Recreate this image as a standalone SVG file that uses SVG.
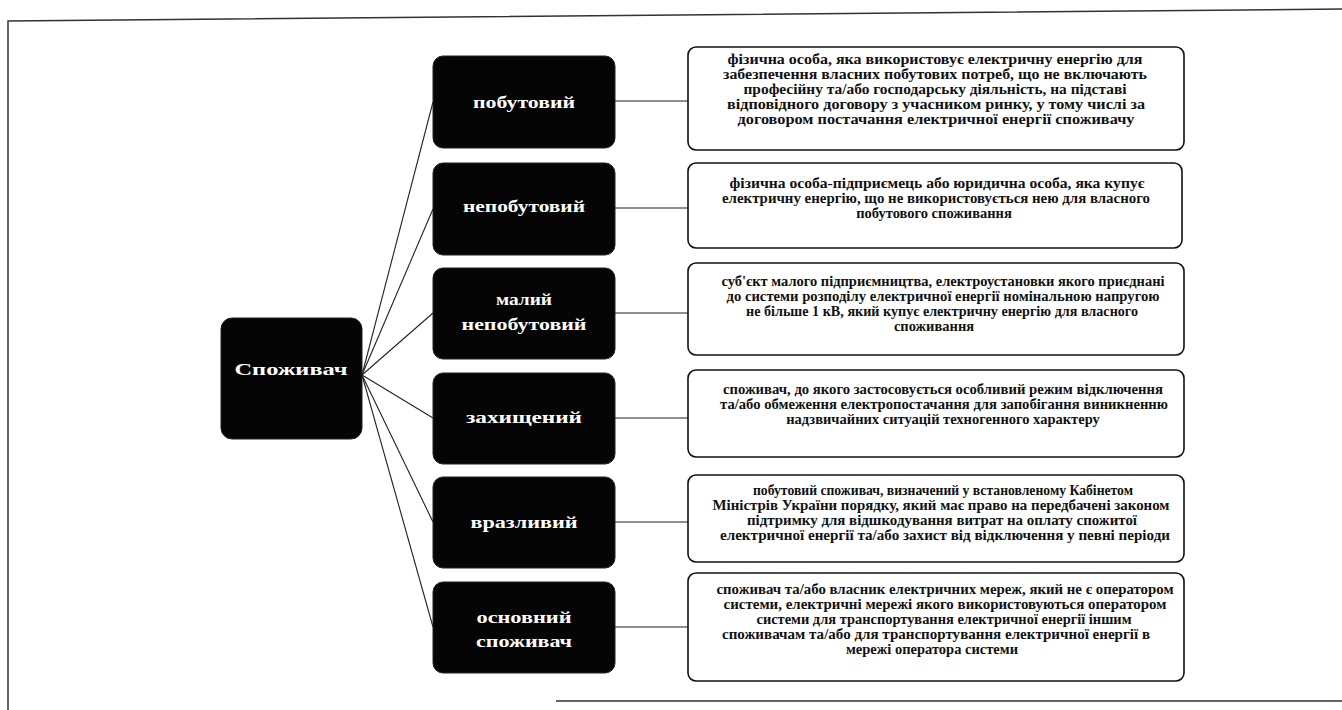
<svg xmlns="http://www.w3.org/2000/svg" width="1342" height="710" viewBox="0 0 1342 710">
<style>
.frame{fill:none;stroke:#333;stroke-width:1.5}
.cat rect{fill:#050505;stroke:#222;stroke-width:1}
.cat text{fill:#fff;font-family:"Liberation Serif",serif;font-weight:bold;font-size:16px;text-anchor:middle}
.desc rect{fill:#fff;stroke:#111;stroke-width:1.6}
.desc text{fill:#111;font-family:"Liberation Serif",serif;font-weight:bold;font-size:14.5px;text-anchor:middle}
.conn line{stroke:#222;stroke-width:1.1}
</style>
<rect width="1342" height="710" fill="#fff"/>
<path class="frame" d="M8,710 L8,21 L1342,9"/>
<line class="frame" x1="556" y1="701" x2="1342" y2="701"/>
<g class="conn">
<line x1="362" y1="375" x2="433" y2="102"/>
<line x1="362" y1="375" x2="433" y2="209"/>
<line x1="362" y1="375" x2="433" y2="313"/>
<line x1="362" y1="375" x2="433" y2="418"/>
<line x1="362" y1="375" x2="433" y2="522"/>
<line x1="362" y1="375" x2="433" y2="627"/>
<line x1="615" y1="101" x2="688" y2="101"/>
<line x1="615" y1="208" x2="688" y2="208"/>
<line x1="615" y1="313" x2="688" y2="313"/>
<line x1="615" y1="418" x2="688" y2="418"/>
<line x1="615" y1="522" x2="688" y2="522"/>
<line x1="615" y1="627" x2="688" y2="627"/>
</g>
<g id="n-center" class="cat">
<rect x="221" y="318" width="141" height="121" rx="11"/>
<text x="291" y="375" font-size="20" textLength="113" lengthAdjust="spacingAndGlyphs">Споживач</text>
</g>
<g id="n-pobut" class="cat">
<rect x="433" y="56" width="182" height="92" rx="10"/>
<text x="524" y="108" textLength="102" lengthAdjust="spacingAndGlyphs">побутовий</text>
</g>
<g id="n-nepobut" class="cat">
<rect x="433" y="163" width="182" height="92" rx="10"/>
<text x="524" y="212" textLength="122" lengthAdjust="spacingAndGlyphs">непобутовий</text>
</g>
<g id="n-malyi" class="cat">
<rect x="433" y="268" width="182" height="91" rx="10"/>
<text x="524" y="305" textLength="56" lengthAdjust="spacingAndGlyphs">малий</text>
<text x="524" y="330" textLength="125" lengthAdjust="spacingAndGlyphs">непобутовий</text>
</g>
<g id="n-zakhysh" class="cat">
<rect x="433" y="373" width="182" height="91" rx="10"/>
<text x="524" y="423" textLength="116" lengthAdjust="spacingAndGlyphs">захищений</text>
</g>
<g id="n-vrazl" class="cat">
<rect x="433" y="477" width="182" height="91" rx="10"/>
<text x="524" y="528" textLength="107" lengthAdjust="spacingAndGlyphs">вразливий</text>
</g>
<g id="n-osnov" class="cat">
<rect x="433" y="582" width="182" height="91" rx="10"/>
<text x="524" y="623" textLength="95" lengthAdjust="spacingAndGlyphs">основний</text>
<text x="524" y="647" textLength="96" lengthAdjust="spacingAndGlyphs">споживач</text>
</g>
<g id="d-pobut" class="desc">
<rect x="688" y="47" width="496" height="103" rx="8"/>
<text x="935" y="64" textLength="415" lengthAdjust="spacingAndGlyphs">фізична особа, яка використовує електричну енергію для</text>
<text x="935" y="79" textLength="424" lengthAdjust="spacingAndGlyphs">забезпечення власних побутових потреб, що не включають</text>
<text x="935" y="94" textLength="383" lengthAdjust="spacingAndGlyphs">професійну та/або господарську діяльність, на підставі</text>
<text x="936" y="109" textLength="418" lengthAdjust="spacingAndGlyphs">відповідного договору з учасником ринку, у тому числі за</text>
<text x="936" y="124" textLength="397" lengthAdjust="spacingAndGlyphs">договором постачання електричної енергії споживачу</text>
</g>
<g id="d-nepobut" class="desc">
<rect x="688" y="163" width="494" height="85" rx="8"/>
<text x="937" y="188" textLength="415" lengthAdjust="spacingAndGlyphs">фізична особа-підприємець  або юридична особа, яка купує</text>
<text x="936" y="203" textLength="428" lengthAdjust="spacingAndGlyphs">електричну енергію, що не використовується нею для власного</text>
<text x="934" y="218">побутового споживання</text>
</g>
<g id="d-malyi" class="desc">
<rect x="688" y="263" width="496" height="92" rx="8"/>
<text x="943" y="286" textLength="443" lengthAdjust="spacingAndGlyphs">суб'єкт малого підприємництва,  електроустановки якого приєднані</text>
<text x="943" y="301" textLength="433" lengthAdjust="spacingAndGlyphs">до системи розподілу електричної енергії номінальною напругою</text>
<text x="942" y="316" textLength="392" lengthAdjust="spacingAndGlyphs">не більше 1 кВ, який купує електричну енергію  для власного</text>
<text x="934" y="331">споживання</text>
</g>
<g id="d-zakhysh" class="desc">
<rect x="688" y="370" width="496" height="87" rx="8"/>
<text x="943" y="394" textLength="440" lengthAdjust="spacingAndGlyphs">споживач, до якого застосовується особливий режим відключення</text>
<text x="944" y="409" textLength="448" lengthAdjust="spacingAndGlyphs">та/або обмеження електропостачання  для запобігання виникненню</text>
<text x="943" y="424">надзвичайних ситуацій  техногенного характеру</text>
</g>
<g id="d-vrazl" class="desc">
<rect x="688" y="475" width="496" height="87" rx="8"/>
<text x="943" y="495" textLength="380" lengthAdjust="spacingAndGlyphs">побутовий споживач,  визначений у встановленому Кабінетом</text>
<text x="941" y="510" textLength="457" lengthAdjust="spacingAndGlyphs">Міністрів України порядку, який має право на передбачені  законом</text>
<text x="942" y="525" textLength="390" lengthAdjust="spacingAndGlyphs">підтримку для відшкодування витрат на оплату спожитої</text>
<text x="945" y="540" textLength="450" lengthAdjust="spacingAndGlyphs">електричної енергії та/або захист від відключення у певні періоди</text>
</g>
<g id="d-osnov" class="desc">
<rect x="688" y="573" width="496" height="108" rx="8"/>
<text x="945" y="594" textLength="457" lengthAdjust="spacingAndGlyphs">споживач та/або власник електричних мереж, який не є оператором</text>
<text x="945" y="609" textLength="443" lengthAdjust="spacingAndGlyphs">системи, електричні мережі якого використовуються оператором</text>
<text x="944" y="624" textLength="375" lengthAdjust="spacingAndGlyphs">системи для транспортування  електричної енергії іншим</text>
<text x="936" y="639" textLength="428" lengthAdjust="spacingAndGlyphs">споживачам та/або  для транспортування  електричної енергії в</text>
<text x="932" y="654">мережі оператора системи</text>
</g>
</svg>
